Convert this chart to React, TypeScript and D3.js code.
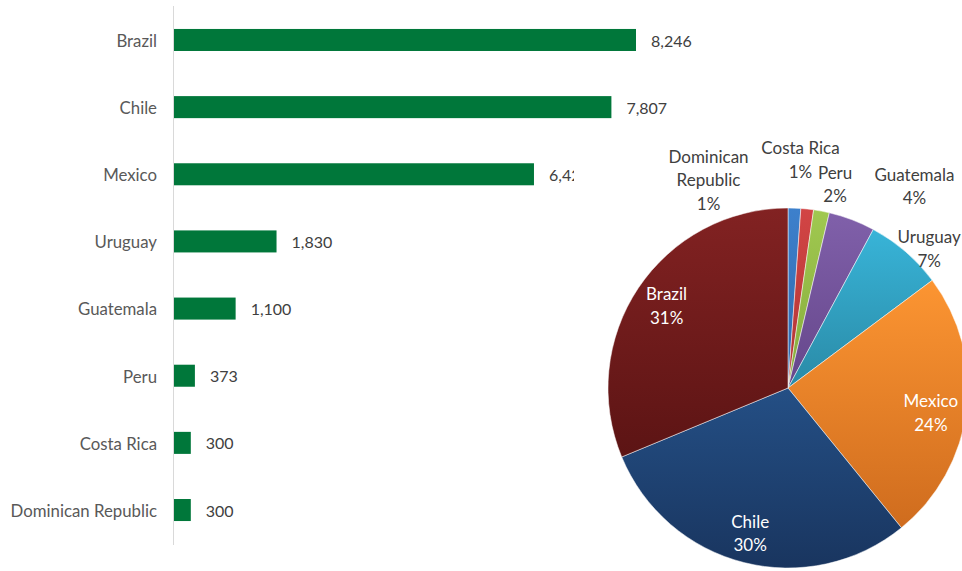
import React from "react";
import * as d3 from "d3";

const countries = ["Brazil", "Chile", "Mexico", "Uruguay", "Guatemala", "Peru", "Costa Rica", "Dominican Republic"];
const values = [8246, 7807, 6425, 1830, 1100, 373, 300, 300];

// pie order (clockwise from 12 o'clock)
const pieOrder = ["Dominican Republic", "Costa Rica", "Peru", "Guatemala", "Uruguay", "Mexico", "Chile", "Brazil"];
const pieShares = ["1%", "1%", "2%", "4%", "7%", "24%", "30%", "31%"];
const pieTop = ["#3d80cc", "#d24545", "#a0c850", "#8060aa", "#38b4d8", "#fc9532", "#244f85", "#822222"];
const pieBottom = ["#2f68ab", "#b03434", "#86ab3c", "#65468a", "#2a8aa6", "#cf6c1e", "#19355f", "#5c1414"];
const pieLabelLines: Record<string, string[]> = {
  "Dominican Republic": ["Dominican", "Republic"],
  "Costa Rica": ["Costa Rica"],
};
// label placement offsets (from radial anchor)
const labelOffsets: Record<string, [number, number]> = {
  "Dominican Republic": [-87, 2],
  "Costa Rica": [-10, -19],
  "Peru": [8, 3],
  "Guatemala": [52, -5],
  "Uruguay": [4, 20],
  "Mexico": [-2, 7],
  "Chile": [-2, 4],
  "Brazil": [0, -1],
};

const W = 962;
const H = 571;
const FONT = "Lato, 'Open Sans', sans-serif";

export default function App() {
  const axisX = 173.5;
  const x = d3.scaleLinear().domain([0, 8246]).range([174, 636]);
  const y = d3.scaleBand<string>().domain(countries).range([6.4, 543.6]).paddingInner(0.672).paddingOuter(0.336);

  const total = d3.sum(values);
  const valueOf = (c: string) => values[countries.indexOf(c)];
  const pieData = pieOrder.map((c, i) => ({ name: c, value: valueOf(c), share: pieShares[i] }));
  const pie = d3.pie<{ name: string; value: number; share: string }>().sort(null).value((d) => d.value);
  const arcs = pie(pieData);
  const R = 180;
  const cx = 788;
  const cy = 388;
  type A = d3.PieArcDatum<{ name: string; value: number; share: string }>;
  const arcGen = d3.arc<A>().innerRadius(0).outerRadius(R);
  const inLabel = d3.arc<A>().innerRadius(146).outerRadius(146);
  const outLabel = d3.arc<A>().innerRadius(210).outerRadius(210);
  const fmt = d3.format(",");

  return (
    <svg width={W} height={H} style={{ position: "absolute", left: 0, top: 0, background: "#fff" }} fontFamily={FONT}>
      <defs>
        {pieData.map((d, i) => (
          <linearGradient key={d.name} id={`g${i}`} x1="0" y1="0" x2="0" y2="1">
            <stop offset="0" stopColor={pieTop[i]} />
            <stop offset="1" stopColor={pieBottom[i]} />
          </linearGradient>
        ))}
      </defs>
      {/* bar chart */}
      <line x1={axisX} x2={axisX} y1={6} y2={545} stroke="#d9d9d9" strokeWidth={1} />
      {countries.map((c, i) => {
        const by = y(c)!;
        const bw = y.bandwidth();
        return (
          <g key={c}>
            <rect x={x(0)} y={by} width={x(values[i]) - x(0)} height={bw} fill="#00773a" />
            <text x={157} y={by + bw / 2 + 1} dy="0.35em" textAnchor="end" fontSize={16.8} fill="#595959">
              {c}
            </text>
            <text x={x(values[i]) + 15} y={by + bw / 2 + 1} dy="0.35em" fontSize={16} fill="#404040">
              {fmt(values[i])}
            </text>
          </g>
        );
      })}
      {/* pie chart area */}
      <rect x={574} y={130} width={W - 574} height={H - 130} fill="#fff" />
      <g transform={`translate(${cx},${cy})`}>
        {arcs.map((a, i) => (
          <path key={a.data.name} d={arcGen(a)!} fill={`url(#g${i})`} stroke="#fff" strokeWidth={0.5} />
        ))}
        {arcs.map((a) => {
          const lines = pieLabelLines[a.data.name] || [a.data.name];
          const all = [...lines, a.data.share];
          const frac = a.data.value / total;
          const inside = frac > 0.2;
          const [ax, ay] = inside ? inLabel.centroid(a) : outLabel.centroid(a);
          const off = labelOffsets[a.data.name] || [0, 0];
          const lx = ax + off[0];
          const ly = ay + off[1];
          return (
            <text key={a.data.name} textAnchor="middle" fontSize={17} fill={inside ? "#fff" : "#404040"}>
              {all.map((t, k) => (
                <tspan key={k} x={lx} y={ly + (k - (all.length - 1) / 2) * 23.5} dy="0.35em">
                  {t}
                </tspan>
              ))}
            </text>
          );
        })}
      </g>
    </svg>
  );
}
